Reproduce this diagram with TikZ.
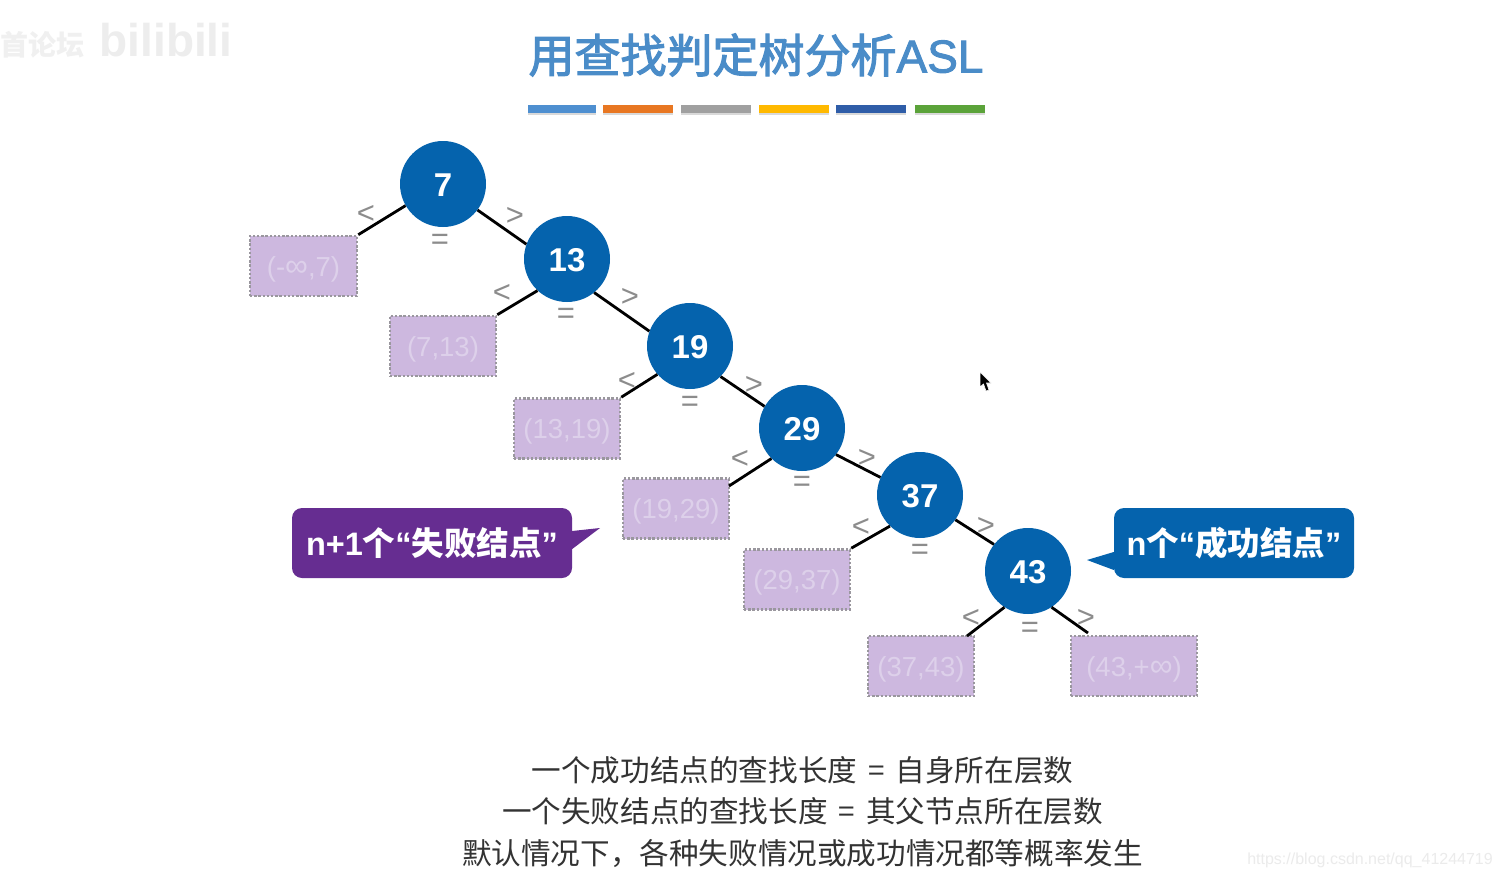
\documentclass[tikz,border=0pt]{standalone}
\usepackage{fontspec}
\setmainfont{Liberation Sans}
\newfontfamily\cjk{Noto Sans CJK SC}
\newfontfamily\cjkmed[FakeBold=2.5]{Noto Sans CJK SC}
\newfontfamily\latmed[FakeBold=2]{Liberation Sans}
\usetikzlibrary{shapes.geometric}
\definecolor{titleblue}{HTML}{4A8CC8}
\definecolor{nodeblue}{HTML}{0563AD}
\definecolor{boxfill}{HTML}{CDB8DF}
\definecolor{boxtext}{HTML}{DDD0EA}
\definecolor{boxedge}{HTML}{9A979E}
\definecolor{signgray}{HTML}{8C8C8C}
\definecolor{calloutpurple}{HTML}{662D91}
\definecolor{bodytext}{HTML}{333333}
\newcommand{\fs}[1]{\fontsize{#1}{#1}\selectfont}
\newcommand{\infy}{{\fs{32}∞}}
\tikzset{
  treenode/.style={circle,fill=nodeblue,draw=none,minimum size=86pt,inner sep=0pt,text=white,font=\fs{33}\bfseries,text height=25pt,text depth=0pt},
  failbox/.style={rectangle,fill=boxfill,draw=boxedge,line width=2.6pt,dash pattern=on 2.4pt off 1.8pt,inner sep=0pt,minimum height=60pt,text=boxtext,font=\fs{27.5},text height=26pt,text depth=5.8pt},
  edge/.style={draw=black,line width=2.8pt},
  sign/.style={text=signgray,font=\fs{31},inner sep=0pt,yshift=-1.5pt},
  bar/.style={inner sep=0pt,minimum height=8pt,anchor=west},
  callout/.style={rectangle,rounded corners=10pt,minimum height=70pt,inner sep=0pt,text=white,font=\fs{32.5}\bfseries},
  body/.style={text=bodytext,font=\fs{29.6}\cjk,inner sep=0pt},
}
\newcommand{\eqgap}{\hspace{11pt}=\hspace{11pt}}
\begin{document}
\begin{tikzpicture}[x=1pt,y=-1pt]
\useasboundingbox (0,0) rectangle (1502,878);
\fill[white] (0,0) rectangle (1502,878);

% watermarks
\node[name=wmA,text=black!6,font=\fs{28}\cjk\bfseries,inner sep=0pt] at (43,45) {首论坛};
\node[name=wmB,text=black!7,font=\fs{46}\bfseries,inner sep=0pt] at (166,40) {bilibili};
\node[name=wmC,text=black!8,font=\fs{16},inner sep=0pt,anchor=east] at (1493,860) {https://blog.csdn.net/qq\_41244719};

% title
\node[name=title,text=titleblue,inner sep=0pt,font=\fs{46}] at (756,55) {{\cjkmed 用查找判定树分析}{\latmed ASL}};

% colour bars
\foreach \nm/\xa/\w/\c in {barA/528/68/4E8FD0,barB/603/70/E87722,barC/681/70/A0A0A0,barD/759/70/FFB900,barE/836/70/2F5DA8,barF/915/70/5BA33A}{
  \definecolor{barcol}{HTML}{\c}
  \fill[black!15] (\xa,107) rectangle +(\w,8);
  \node[bar,fill=barcol,minimum width=\w pt,name=\nm] at (\xa,109) {};
}

% failure boxes
\node[failbox,minimum width=107pt,name=b1] at (303.5,266) {(-\infy,7)};
\node[failbox,minimum width=106pt,name=b2] at (443,346) {(7,13)};
\node[failbox,minimum width=106pt,name=b3] at (567,428.5) {(13,19)};
\node[failbox,minimum width=106pt,name=b4] at (676,508.5) {(19,29)};
\node[failbox,minimum width=106pt,name=b5] at (797,579.5) {(29,37)};
\node[failbox,minimum width=106pt,name=b6] at (921,666) {(37,43)};
\node[failbox,minimum width=126pt,name=b7] at (1134,666) {(43,+\infy)};
\coordinate (b4end) at (729,486);
\coordinate (b6end) at (967,636);
\coordinate (b7end) at (1088,633);

% tree nodes
\node[treenode,name=n7] at (443,184) {7};
\node[treenode,name=n13] at (567,259) {13};
\node[treenode,name=n19] at (690,346) {19};
\node[treenode,name=n29] at (802,428) {29};
\node[treenode,name=n37] at (920,495) {37};
\node[treenode,name=n43] at (1028,571) {43};

% connectors
\draw[edge] (n7.210) -- (b1.north east);
\draw[edge] (n7.323) -- (n13.160);
\draw[edge] (n13.227) -- (b2.north east);
\draw[edge] (n13.309) -- (n19.160);
\draw[edge] (n19.221) -- (b3.north east);
\draw[edge] (n19.315) -- (n29.150);
\draw[edge] (n29.225) -- (b4end);
\draw[edge] (n29.322) -- (n37.156);
\draw[edge] (n37.226) -- (b5.north east);
\draw[edge] (n37.325) -- (n43.142);
\draw[edge] (n43.237) -- (b6end);
\draw[edge] (n43.303) -- (b7end);

% comparison signs
\node[sign,name=l1] at (366,213) {<};
\node[sign,name=g1] at (515,215) {>};
\node[sign,name=e1] at (440,240) {=};
\node[sign,name=l2] at (502,292) {<};
\node[sign,name=g2] at (630,296) {>};
\node[sign,name=e2] at (566,314) {=};
\node[sign,name=l3] at (627,380) {<};
\node[sign,name=g3] at (754,384) {>};
\node[sign,name=e3] at (690,402) {=};
\node[sign,name=l4] at (740,458) {<};
\node[sign,name=g4] at (867,457) {>};
\node[sign,name=e4] at (802,482) {=};
\node[sign,name=l5] at (861,526) {<};
\node[sign,name=g5] at (986,525) {>};
\node[sign,name=e5] at (920,550) {=};
\node[sign,name=l6] at (971,617) {<};
\node[sign,name=g6] at (1086,617) {>};
\node[sign,name=e6] at (1030,628) {=};

% callouts
\node[callout,fill=calloutpurple,minimum width=280pt,name=cp] at (432,543) {n+1{\cjk 个}“{\cjk 失败结点}”};
\fill[calloutpurple] ([yshift=12pt]cp.east) -- (600,528) -- ([yshift=-6pt]cp.east) -- cycle;
\node[callout,fill=nodeblue,minimum width=240pt,name=cb] at (1234,543) {n{\cjk 个}“{\cjk 成功结点}”};
\fill[nodeblue] ([yshift=-9pt]cb.west) -- (1087,560) -- ([yshift=-27pt]cb.west) -- cycle;

% bottom text
\node[body,name=t1] at (802.5,770) {一个成功结点的查找长度\eqgap 自身所在层数};
\node[body,name=t2] at (802.5,811) {一个失败结点的查找长度\eqgap 其父节点所在层数};
\node[body,name=t3] at (802.5,854) {默认情况下，各种失败情况或成功情况都等概率发生};

% mouse pointer
\fill[black,draw=white,line width=.6pt] (980,372) -- (980,387) -- (983.5,384) -- (986,391) -- (989,390) -- (986.5,383) -- (991,383) -- cycle;
\end{tikzpicture}
\end{document}
